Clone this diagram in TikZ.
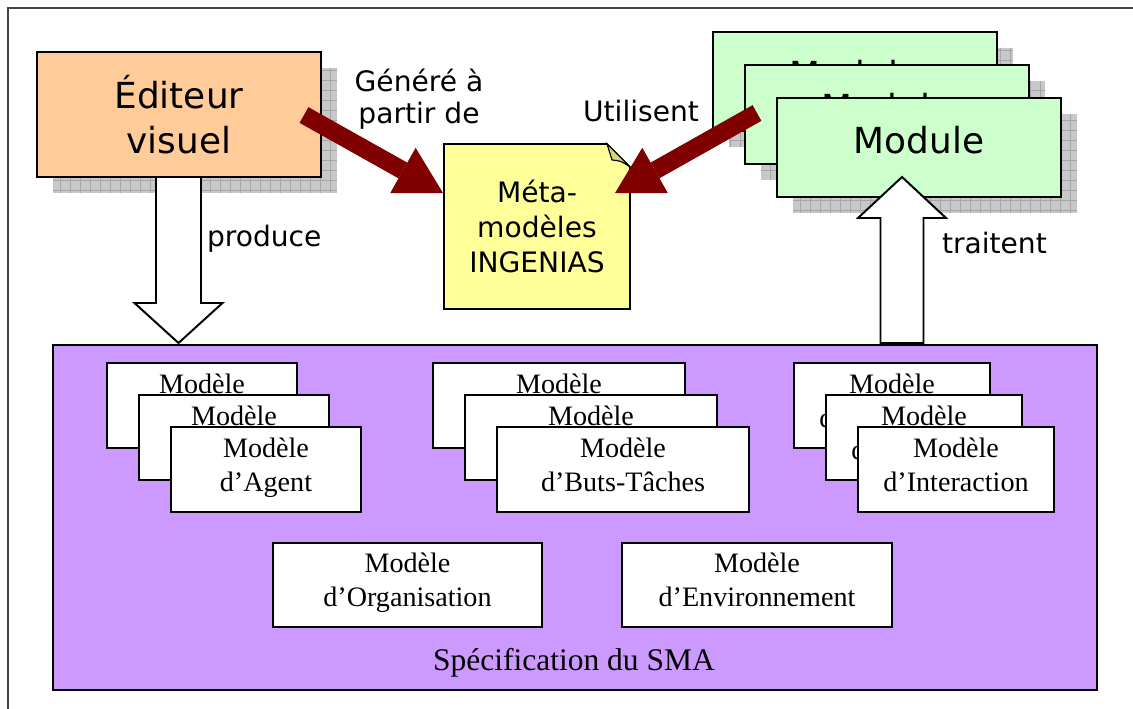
\documentclass[tikz,border=0pt]{standalone}
\usepackage{fontspec}
\setmainfont{Liberation Serif}
\newfontfamily\vsans{DejaVu Sans}
\usetikzlibrary{arrows.meta,calc}
\definecolor{peach}{RGB}{255,204,153}
\definecolor{mgreen}{RGB}{204,255,204}
\definecolor{nyellow}{RGB}{255,255,153}
\definecolor{dogear}{RGB}{214,214,130}
\definecolor{specpurple}{RGB}{204,153,255}
\definecolor{darkred}{RGB}{128,0,0}
\definecolor{shgray}{RGB}{200,200,200}
\definecolor{shline}{RGB}{165,165,165}
\definecolor{framegray}{RGB}{70,70,70}
\newcommand\mkshadow[4]{\fill[shgray] (#1,#2) rectangle (#3,#4);
  \draw[shline, line width=0.4pt, step=0.25cm] (#1,#2) grid (#3,#4);}
\begin{document}
\begin{tikzpicture}[x=0.025cm,y=-0.025cm,
  every node/.style={inner sep=0pt, outer sep=0pt},
  boxline/.style={draw=black, line width=1.4pt},
  editorbox/.style={boxline, fill=peach, align=center,
    font=\vsans\fontsize{25.5}{32}\selectfont},
  modulebox/.style={boxline, fill=mgreen, font=\vsans\fontsize{25.5}{32}\selectfont,
    text depth=11.4pt, minimum width=7.1cm, minimum height=2.475cm},
  modelbox/.style={boxline, fill=white, align=center, text depth=7pt,
    font=\fontsize{20}{24}\selectfont, minimum height=2.125cm},
  lbl/.style={font=\vsans\fontsize{20}{22.75}\selectfont, align=center},
  redarrow/.style={draw=darkred, line width=12.8pt,
    -{Triangle[length=32.7pt,width=37pt,line width=0pt]}},
  blockarrow/.style={draw=black, line width=1.4pt, fill=white, line join=miter}]
\useasboundingbox (0,0) rectangle (1133,709);
% frame
\draw[framegray, line width=1pt] (8,709) -- (8,8) -- (1133,8);
% editor
\mkshadow{53}{68}{337}{193}
\node[editorbox, minimum width=7.1cm, minimum height=3.125cm] (editor) at (179,114.5) {Éditeur\\visuel};
% modules
\mkshadow{729}{48}{1013}{147}
\node[modulebox] (mod1) at (855,81.5) {Module};
\mkshadow{761}{81}{1045}{180}
\node[modulebox] (mod2) at (887,114.5) {Module};
\mkshadow{793}{114}{1077}{213}
\node[modulebox] (mod3) at (919,147.5) {Module};
% note
\node[minimum width=4.65cm, minimum height=4.125cm] (notebox) at (537,226.5) {};
\filldraw[boxline, line width=1.2pt, fill=nyellow] (notebox.north west) -- ($(notebox.north east)+(-23,0)$) -- ($(notebox.north east)+(0,23)$) -- (notebox.south east) -- (notebox.south west) -- cycle;
\filldraw[draw=black, line width=0.8pt, fill=dogear] ($(notebox.north east)+(-23,0)$) .. controls ($(notebox.north east)+(-20,8)$) .. ($(notebox.north east)+(-18,16)$) .. controls ($(notebox.north east)+(-9,17)$) .. ($(notebox.north east)+(0,23)$) -- cycle;
\node[lbl, font=\vsans\fontsize{20}{25}\selectfont] (note) at (537,226.5) {Méta-\\modèles\\INGENIAS};
% specification
\node[boxline, fill=specpurple, minimum width=26.1cm, minimum height=8.625cm] (spec) at (575,517.5) {};
\node[font=\fontsize{22.4}{26}\selectfont, anchor=base] (spectxt) at (574,670) {Spécification du SMA};
% agent stack
\node[modelbox, minimum width=4.75cm] (ag1) at (202,405.5) {Modèle\\d’Agent};
\node[modelbox, minimum width=4.75cm] (ag2) at (234,437.5) {Modèle\\d’Agent};
\node[modelbox, minimum width=4.75cm] (ag3) at (266,469.5) {Modèle\\d’Agent};
% buts stack
\node[modelbox, minimum width=6.3cm] (bt1) at (559,405.5) {Modèle\\d’Buts-Tâches};
\node[modelbox, minimum width=6.3cm] (bt2) at (591,437.5) {Modèle\\d’Buts-Tâches};
\node[modelbox, minimum width=6.3cm] (bt3) at (623,469.5) {Modèle\\d’Buts-Tâches};
% interaction stack
\node[modelbox, minimum width=4.875cm] (in1) at (892,405.5) {Modèle\\d’Interaction};
\node[modelbox, minimum width=4.875cm] (in2) at (924,437.5) {Modèle\\d’Interaction};
\node[modelbox, minimum width=4.875cm] (in3) at (956,469.5) {Modèle\\d’Interaction};
% bottom boxes
\node[modelbox, minimum width=6.725cm, minimum height=2.1cm] (org) at (407.5,585) {Modèle\\d’Organisation};
\node[modelbox, minimum width=6.75cm, minimum height=2.1cm] (env) at (757,585) {Modèle\\d’Environnement};
% white block arrows
\coordinate (pT) at (178.5,177);
\coordinate (pB) at (178.5,343);
\filldraw[blockarrow] ($(pT)+(-22.5,0)$) -- ($(pB)+(-22.5,-40)$) -- ($(pB)+(-44,-40)$) -- (pB) -- ($(pB)+(44,-40)$) -- ($(pB)+(22.5,-40)$) -- ($(pT)+(22.5,0)$) -- cycle;
\coordinate (tT) at (902,177);
\coordinate (tB) at (902,343);
\filldraw[blockarrow] ($(tB)+(-21.5,0)$) -- ($(tT)+(-21.5,41)$) -- ($(tT)+(-44,41)$) -- (tT) -- ($(tT)+(44,41)$) -- ($(tT)+(21.5,41)$) -- ($(tB)+(21.5,0)$) -- cycle;
% dark red arrows
\coordinate (g1) at (304,115);
\coordinate (g2) at (443,193);
\draw[redarrow] (g1) -- (g2);
\coordinate (u1) at (757,113);
\coordinate (u2) at (615,193);
\draw[redarrow] (u1) -- (u2);
% labels
\node[lbl] (lgen) at (419,99) {Généré à\\partir de};
\node[lbl, anchor=base] (luti) at (641,122) {Utilisent};
\node[lbl, anchor=base west] (lprod) at (207,247) {produce};
\node[lbl, anchor=base west] (ltrait) at (942,253) {traitent};
\end{tikzpicture}
\end{document}
